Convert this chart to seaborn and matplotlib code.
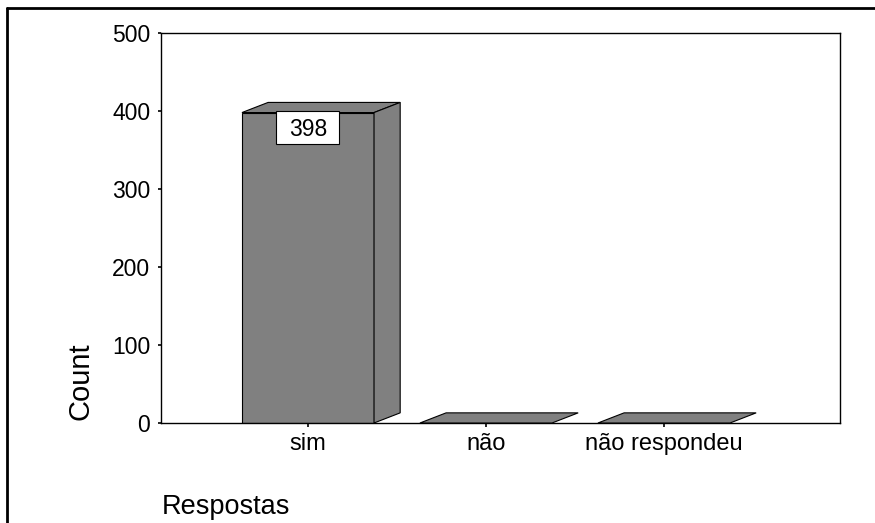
import matplotlib
matplotlib.use("Agg")
import matplotlib.pyplot as plt
from matplotlib.patches import Polygon, Rectangle
from matplotlib.lines import Line2D
import seaborn as sns
import pandas as pd

categories = ["sim", "não", "não respondeu"]
counts = [398, 0, 0]
y_ticks = [0, 100, 200, 300, 400, 500]
bar_label = "398"

sns.set_style("white")
plt.rcParams["font.family"] = ["Liberation Sans", "DejaVu Sans"]
plt.rcParams["text.color"] = "black"
plt.rcParams["xtick.color"] = "black"
plt.rcParams["ytick.color"] = "black"
plt.rcParams["axes.labelcolor"] = "black"

df = pd.DataFrame({"Respostas": categories, "Count": counts})

fig = plt.figure(figsize=(8.75, 5.23), dpi=100)
ax = fig.add_axes([160.7 / 875, 100 / 523, (840 - 160.7) / 875, (423 - 33) / 523])

gray = "#808080"
sns.barplot(data=df, x="Respostas", y="Count", order=categories, color=gray,
            saturation=1, edgecolor="black", linewidth=0.8, width=0.742, ax=ax)

ax.set_xlim(-0.8275, 2.989)
ax.set_ylim(0, 500)

# 3D faces (depth offset)
dx, dy = 0.147, 13.0
for p in ax.patches[:len(categories)]:
    x0 = p.get_x()
    w = p.get_width()
    h = p.get_height()
    x1 = x0 + w
    top = Polygon([(x0, h), (x1, h), (x1 + dx, h + dy), (x0 + dx, h + dy)],
                  closed=True, facecolor=gray, edgecolor="black", lw=0.8, zorder=3)
    ax.add_patch(top)
    if h > 0:
        side = Polygon([(x1, 0), (x1 + dx, dy), (x1 + dx, h + dy), (x1, h)],
                       closed=True, facecolor=gray, edgecolor="black", lw=0.8, zorder=3)
        ax.add_patch(side)

# value label box
val = counts[0]
ax.add_patch(Rectangle((-0.181, val - 40.5), 0.357, 42.5, facecolor="white",
                       edgecolor="black", lw=0.8, zorder=4))
ax.text(0, val - 30, bar_label, ha="center", va="baseline", fontsize=16.5,
        color="black", zorder=5)

ax.set_yticks(y_ticks)
ax.set_yticklabels([str(t) for t in y_ticks])
ax.tick_params(axis="y", direction="out", length=2.5, width=1.2, pad=5,
               labelsize=16.5, left=True, color="black", labelcolor="black")
ax.tick_params(axis="x", direction="out", length=3, width=1.2, pad=4,
               labelsize=17, bottom=True, color="black", labelcolor="black")
for s in ax.spines.values():
    s.set_visible(True)
    s.set_color("black")
    s.set_linewidth(1.0)

ax.set_xlabel("")
ax.set_ylabel("")

fig.text(81 / 875, 1 - 381 / 523, "Count", rotation=90, ha="center", va="center",
         fontsize=21, color="black")
fig.text(162 / 875, 1 - 514 / 523, "Respostas", ha="left", va="baseline",
         fontsize=19.5, color="black")

# outer frame (top and left only)
fig.add_artist(Line2D([6.5 / 875, 6.5 / 875], [0, 1 - 7.5 / 523], color="black",
                      lw=2.0, transform=fig.transFigure))
fig.add_artist(Line2D([6.5 / 875, 1], [1 - 7.5 / 523, 1 - 7.5 / 523], color="black",
                      lw=2.0, transform=fig.transFigure))

fig.savefig("out.png", dpi=100, facecolor="white")
